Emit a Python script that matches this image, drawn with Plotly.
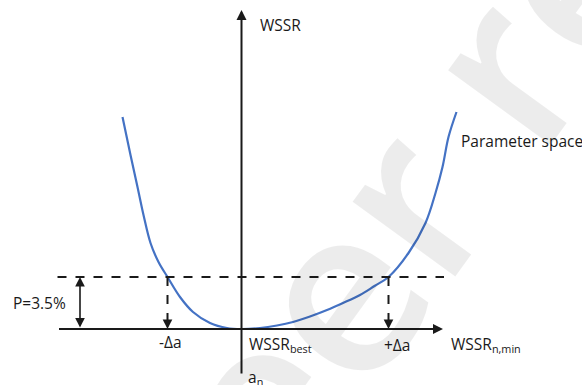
import plotly.graph_objects as go

# Parameter a_n (offset from the best-fit value) and the WSSR curve over it
a_values = [-1.19, -1.11, -1.04, -0.98, -0.91, -0.83, -0.74, -0.615, -0.485, -0.315, -0.145, 0.0,
            0.185, 0.355, 0.515, 0.685, 0.855, 1.015, 1.185, 1.33, 1.47, 1.67, 1.84, 1.94,
            2.01, 2.07, 2.15]
wssr_values = [2.12, 1.74, 1.42, 1.14, 0.86, 0.67, 0.52, 0.32, 0.17, 0.06, 0.01, 0.0,
               0.01, 0.035, 0.07, 0.125, 0.19, 0.26, 0.34, 0.43, 0.52, 0.76, 1.06, 1.36,
               1.62, 1.92, 2.17]

threshold = 0.52          # WSSR level at P = 3.5 %
delta_minus = -0.74       # -Δa
delta_plus = 1.47         # +Δa

axis_x_min, axis_x_max = -1.84, 2.015
axis_y_min, axis_y_max = -0.46, 3.19
p_arrow_x = -1.615

FONT = "Open Sans"
TXT = "#1a1a1a"
BLUE = "#4472C4"

fig = go.Figure()

fig.add_trace(go.Scatter(
    x=a_values, y=wssr_values, mode="lines",
    line=dict(color=BLUE, width=2.2, shape="spline", smoothing=1.0),
    hoverinfo="skip", showlegend=False,
))

shapes = [
    # dashed threshold line
    dict(type="line", x0=axis_x_min, x1=axis_x_max + 0.01, y0=threshold, y1=threshold,
         line=dict(color="#1a1a1a", width=2, dash="dash")),
    # dashed drops to the parameter axis
    dict(type="line", x0=delta_minus, x1=delta_minus, y0=threshold, y1=0.07,
         line=dict(color="#1a1a1a", width=2, dash="dash")),
    dict(type="line", x0=delta_plus, x1=delta_plus, y0=threshold, y1=0.07,
         line=dict(color="#1a1a1a", width=2, dash="dash")),
]

annotations = []

def arrow(x, y, ax, ay, side="end", width=2, head=2, size=1.0):
    annotations.append(dict(
        x=x, y=y, ax=ax, ay=ay, xref="x", yref="y", axref="x", ayref="y",
        text="", showarrow=True, arrowhead=head, arrowsize=size, arrowwidth=width,
        arrowcolor="#1a1a1a", arrowside=side, startarrowhead=head, startarrowsize=size,
    ))

# coordinate axes
arrow(axis_x_max, 0, axis_x_min, 0)
arrow(0, axis_y_max, 0, axis_y_min)
# arrowheads of the dashed drops
arrow(delta_minus, 0.0, delta_minus, 0.08, width=1.6, size=1.2)
arrow(delta_plus, 0.0, delta_plus, 0.08, width=1.6, size=1.2)
# double arrow for P
arrow(p_arrow_x, threshold, p_arrow_x, 0, side="end+start", width=1.6, size=1.2)

def label(text, x, y, xanchor="left", yanchor="middle", size=15.5, color=TXT):
    annotations.append(dict(
        x=x, y=y, xref="x", yref="y", text=text, showarrow=False,
        xanchor=xanchor, yanchor=yanchor,
        font=dict(family=FONT, size=size, color=color),
    ))

label("WSSR", 0.165, 3.04)
label("P=3.5%", -2.31, 0.26)
label("-Δa", delta_minus + 0.03, -0.13, xanchor="center")
label("WSSR<sub>best</sub>", 0.05, -0.02, yanchor="top")
label("+Δa", delta_plus + 0.08, -0.16, xanchor="center")
label("WSSR<sub>n,min</sub>", 2.075, -0.02, yanchor="top")
label("Parameter space", 2.175, 1.88)
label("a<sub>n</sub>", 0.045, -0.35, yanchor="top")

# faint diagonal watermark lettering
annotations.append(dict(
    x=2.76, y=2.93, xref="x", yref="y", text="peer review", showarrow=False,
    xanchor="center", yanchor="middle", textangle=-54,
    font=dict(family=FONT, size=235, weight=600, color="rgba(0,0,0,0.075)"),
))

fig.update_layout(
    width=582, height=385,
    margin=dict(l=0, r=0, t=0, b=0),
    paper_bgcolor="white", plot_bgcolor="white",
    xaxis=dict(range=[-2.415, 3.405], visible=False, fixedrange=True),
    yaxis=dict(range=[-0.56, 3.29], visible=False, fixedrange=True),
    shapes=shapes, annotations=annotations,
    showlegend=False,
)

fig.write_html("out.html")
